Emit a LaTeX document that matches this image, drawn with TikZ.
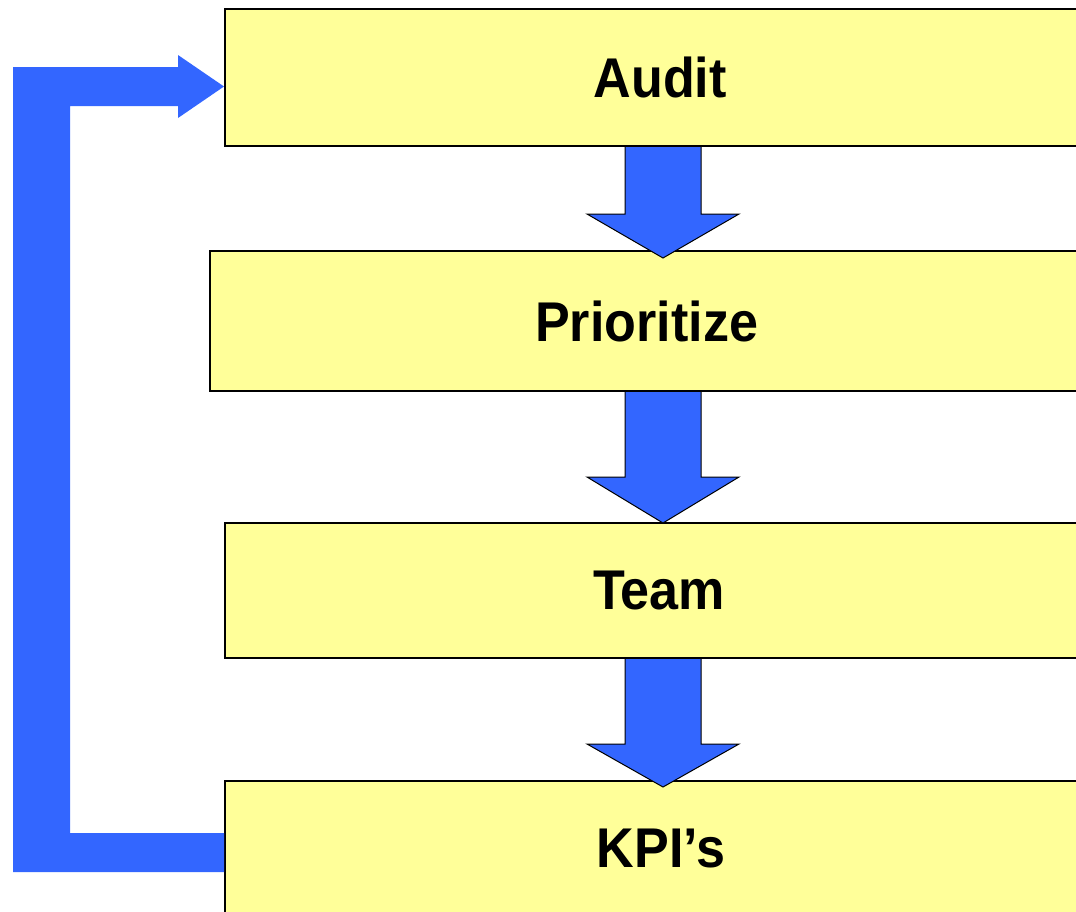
\documentclass[tikz,border=0pt]{standalone}
\usepackage{fontspec}
\setmainfont{Liberation Sans}
\newfontfamily\boxfont[FakeStretch=0.93]{Liberation Sans}
\definecolor{boxyellow}{RGB}{255,255,153}
\definecolor{arrowblue}{RGB}{51,102,255}
\begin{document}
\begin{tikzpicture}[x=1pt,y=-1pt,
  box/.style={draw=black, line width=2.2pt, fill=boxyellow, anchor=north west, inner sep=0pt,
    font=\boxfont\fontsize{56}{60}\selectfont\bfseries},
  downarrow/.style={draw=black, line width=1pt, fill=arrowblue, line join=miter},
  backarrow/.style={fill=arrowblue, draw=none}]
\useasboundingbox (0,0) rectangle (1076,911);
\clip (0,0) rectangle (1076,911);
% boxes
\node[box, minimum width=870pt, minimum height=137pt] (audit) at (224,8) {Audit};
\node[box, minimum width=873pt, minimum height=140pt] (prio) at (209,250) {Prioritize};
\node[box, minimum width=868pt, minimum height=135pt] (team) at (224,522) {Team};
\node[box, minimum width=872pt, minimum height=135pt] (kpi) at (224,780) {KPI’s};
% feedback arrow from KPI's back to Audit
\fill[backarrow] (kpi.west |- 0,833) -- (70,833) -- (70,106) -- (178,106) -- (178,118)
  -- (audit.west |- 0,86.5) -- (178,55) -- (178,67) -- (13,67) -- (13,872)
  -- (kpi.west |- 0,872) -- cycle;
% down arrows
\draw[downarrow] (625,0 |- audit.south) -- (625,214) -- (587,214) -- (663,258) -- (739,214)
  -- (701,214) -- (701,0 |- audit.south);
\draw[downarrow] (625,0 |- prio.south) -- (625,477) -- (587,477) -- (663,523) -- (739,477)
  -- (701,477) -- (701,0 |- prio.south);
\draw[downarrow] (625,0 |- team.south) -- (625,744) -- (587,744) -- (663,787) -- (739,744)
  -- (701,744) -- (701,0 |- team.south);
\end{tikzpicture}
\end{document}
